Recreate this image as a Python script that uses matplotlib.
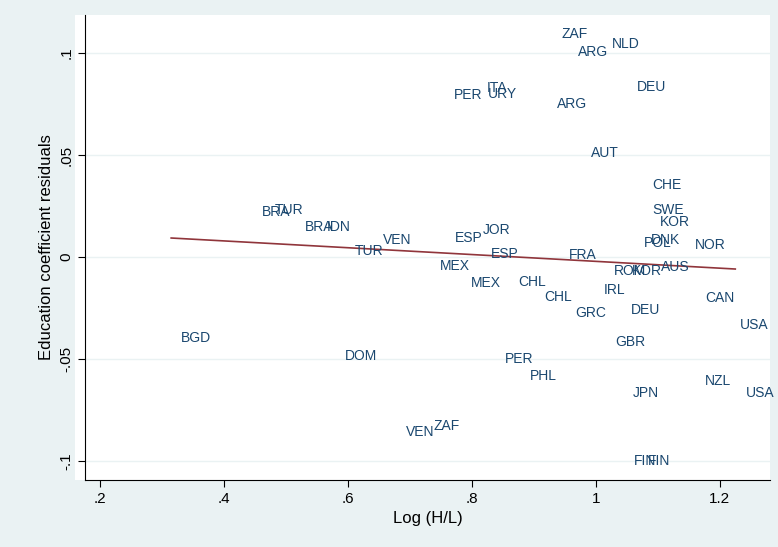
import matplotlib
matplotlib.use("Agg")
import matplotlib.pyplot as plt

labels = ["ZAF", "NLD", "ARG", "DEU", "ITA", "PER", "URY", "ARG", "AUT", "CHE",
          "SWE", "KOR", "DNK", "POL", "NOR", "FRA", "AUS", "ROM", "KOR", "IRL",
          "CAN", "DEU", "GRC", "CHL", "CHL", "USA", "GBR", "JPN", "NZL", "USA",
          "PER", "PHL", "FIN", "FIN", "BGD", "DOM", "VEN", "ZAF", "BRA", "TUR",
          "BRA", "IDN", "TUR", "VEN", "ESP", "JOR", "ESP", "MEX", "MEX"]
log_hl = [0.966, 1.048, 0.995, 1.090, 0.840, 0.794, 0.850, 0.961, 1.015, 1.115,
          1.116, 1.127, 1.113, 1.100, 1.185, 0.979, 1.129, 1.055, 1.082, 1.031,
          1.200, 1.081, 0.992, 0.939, 0.897, 1.255, 1.055, 1.081, 1.197, 1.265,
          0.876, 0.916, 1.079, 1.102, 0.355, 0.621, 0.716, 0.760, 0.485, 0.505,
          0.553, 0.585, 0.635, 0.679, 0.795, 0.840, 0.853, 0.773, 0.823]
resid = [0.1093, 0.1044, 0.1005, 0.0833, 0.0828, 0.0794, 0.0799, 0.0750, 0.0510, 0.0353,
         0.0230, 0.0172, 0.0083, 0.0069, 0.0059, 0.0010, -0.0049, -0.0069, -0.0069, -0.0162,
         -0.0201, -0.0260, -0.0275, -0.0196, -0.0123, -0.0333, -0.0417, -0.0667, -0.0608, -0.0667,
         -0.0500, -0.0583, -0.1000, -0.1000, -0.0397, -0.0485, -0.0858, -0.0828, 0.0221, 0.0230,
         0.0147, 0.0147, 0.0029, 0.0083, 0.0093, 0.0132, 0.0015, -0.0044, -0.0127]
fit_x = [0.315, 1.225]
fit_y = [0.0093, -0.0059]

bg = "#eaf2f3"
fig = plt.figure(figsize=(7.78, 5.47), dpi=100, facecolor=bg)
back = fig.add_axes([75 / 778, 1 - 480 / 547, 695 / 778, 465 / 547], zorder=-1)
back.set_facecolor("white")
back.axis("off")
back.add_patch(plt.Rectangle((0, 0), 1, 1, transform=back.transAxes, color="white"))
ax = fig.add_axes([85 / 778, 1 - 480 / 547, 685 / 778, 465 / 547], zorder=1)
ax.set_facecolor("white")

for lab, x, y in zip(labels, log_hl, resid):
    ax.text(x, y, lab, ha="center", va="center", fontsize=10, color="#1a476f",
            family="Liberation Sans", clip_on=False)
ax.plot(fit_x, fit_y, color="#90353b", lw=1.2)

ax.set_xlim(0.176, 1.281)
ax.set_ylim(-0.1093, 0.1186)
ax.set_xticks([0.2, 0.4, 0.6, 0.8, 1.0, 1.2])
ax.set_xticklabels([".2", ".4", ".6", ".8", "1", "1.2"])
ax.set_yticks([-0.1, -0.05, 0, 0.05, 0.1])
ax.set_yticklabels(["-.1", "-.05", "0", ".05", ".1"], rotation=90, va="center")
ax.grid(axis="y", color="#eaf2f3", lw=1)
ax.set_axisbelow(True)
for s in ["top", "right"]:
    ax.spines[s].set_visible(False)
ax.tick_params(labelsize=11, length=5)
ax.set_xlabel("Log (H/L)", fontsize=12, family="Liberation Sans")
ax.set_ylabel("Education coefficient residuals", fontsize=12, family="Liberation Sans")
for t in ax.get_xticklabels() + ax.get_yticklabels():
    t.set_family("Liberation Sans")

fig.savefig("out.png", dpi=100, facecolor=bg)
